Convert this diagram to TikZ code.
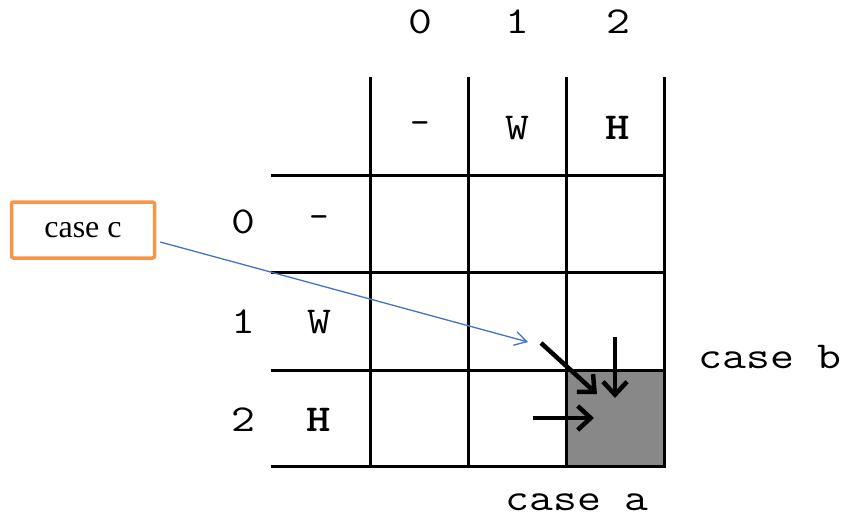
\documentclass[tikz,border=0pt]{standalone}
\usepackage{fontspec}
\setmainfont{Liberation Serif}
\usetikzlibrary{arrows.meta}
\definecolor{boxorange}{HTML}{F79646}
\definecolor{linkblue}{HTML}{4472C4}
\definecolor{cellgray}{HTML}{888888}
\newcommand{\widetext}[1]{\scalebox{1.22}[1.0]{#1}}
\tikzset{
  lbl/.style={font=\fontsize{38}{42}\selectfont\ttfamily, inner sep=0pt, anchor=center},
  gridline/.style={line width=3pt, line cap=rect},
  bigarrow/.style={line width=4.5pt, -{Straight Barb[length=13pt,width=24pt,line width=4.5pt]}},
  casebox/.style={draw=boxorange, line width=3.5pt, rounded corners=2pt, minimum width=143pt, minimum height=56pt, inner sep=0pt, font=\fontsize{32}{36}\selectfont},
  link/.style={draw=linkblue, line width=1.3pt, -{Straight Barb[length=12pt,width=14pt,line width=1.3pt]}}
}
\begin{document}
\begin{tikzpicture}[x=1pt,y=-1pt]
\useasboundingbox (0,0) rectangle (847,519);
% grey cell
\fill[cellgray] (566,370) rectangle (664,466);
% grid
\foreach \yy in {175,272,370,466} \draw[gridline] (272,\yy) -- (664,\yy);
\foreach \xx in {370,468,566,664} \draw[gridline] (\xx,79) -- (\xx,466);
% column labels
\node[lbl] (c0) at (420,22) {\widetext{0}};
\node[lbl] (c1) at (517,22) {\widetext{1}};
\node[lbl] (c2) at (618,22) {\widetext{2}};
\node[lbl] (h0) at (420,128) {-};
\node[lbl] (h1) at (517,128) {\widetext{W}};
\node[lbl] (h2) at (618,128) {\widetext{\bfseries H}};
% row labels
\node[lbl] (r0) at (243,222) {\widetext{0}};
\node[lbl] (r1) at (243,322) {\widetext{1}};
\node[lbl] (r2) at (243,420) {\widetext{2}};
\node[lbl] (v0) at (319,222) {-};
\node[lbl] (v1) at (319,322) {\widetext{W}};
\node[lbl] (v2) at (319,420) {\widetext{\bfseries H}};
% case labels
\node[lbl] (caseb) at (770,357) {\widetext{case b}};
\node[lbl] (casea) at (577,502) {\widetext{case a}};
\node[casebox] (casec) at (83,230) {case c};
% arrows
\coordinate (ds) at (615,337);
\coordinate (de) at (615,398);
\coordinate (gs) at (541,343);
\coordinate (ge) at (597,394);
\coordinate (hs) at (533,418);
\coordinate (he) at (594,418);
\draw[bigarrow] (ds) -- (de);
\draw[bigarrow] (gs) -- (ge);
\draw[bigarrow] (hs) -- (he);
\coordinate (ct) at (528,342);
\draw[link] (casec.east) ++(4,12) -- (ct);
\end{tikzpicture}
\end{document}
